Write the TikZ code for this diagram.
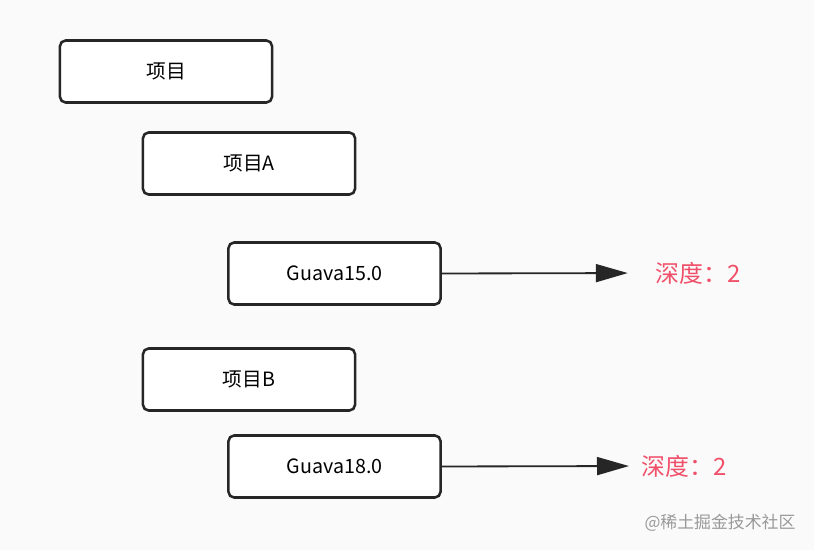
\documentclass[tikz,border=0pt]{standalone}
\usepackage{fontspec}
\setmainfont{Noto Sans CJK SC}
\usetikzlibrary{arrows.meta}
\definecolor{deepred}{HTML}{F0506A}
\tikzstyle{box}=[rectangle,rounded corners=4pt,fill=white,line width=1.8pt,draw=black!85,minimum width=5.3cm,minimum height=1.55cm,font=\fontsize{14}{16}\selectfont, anchor=center]
\tikzstyle{depth}=[text=deepred,inner sep=0pt,font=\fontsize{17}{20}\selectfont]
\tikzstyle{link}=[line width=1.3pt,draw=black!85,-{Triangle[length=0.8cm,width=0.45cm]}]
\begin{document}
\begin{tikzpicture}[x=0.025cm,y=-0.025cm]
	\fill[black!2] (0,0) rectangle (814,550);
	\useasboundingbox (0,0) rectangle (814,550);

	\node[box](proj) at (166,71.5){项目};
	\node[box](projA) at (249,163.5){项目A};
	\node[box](guavaA) at (334.5,273.5){Guava15.0};
	\node[box](projB) at (249,379.5){项目B};
	\node[box](guavaB) at (334.5,466.5){Guava18.0};

	\node[depth,anchor=west](depthA) at (655,273){深度：2};
	\node[depth,anchor=west](depthB) at (641,466){深度：2};
	\draw[link,shorten >=0.68cm] (guavaA.east) -- (depthA.west);
	\draw[link,shorten >=0.3cm] (guavaB.east) -- (depthB.west);

	%watermark
	\node[text=black!40,font=\fontsize{12}{14}\selectfont](mark) at (720,523){@稀土掘金技术社区};
\end{tikzpicture}
\end{document}
